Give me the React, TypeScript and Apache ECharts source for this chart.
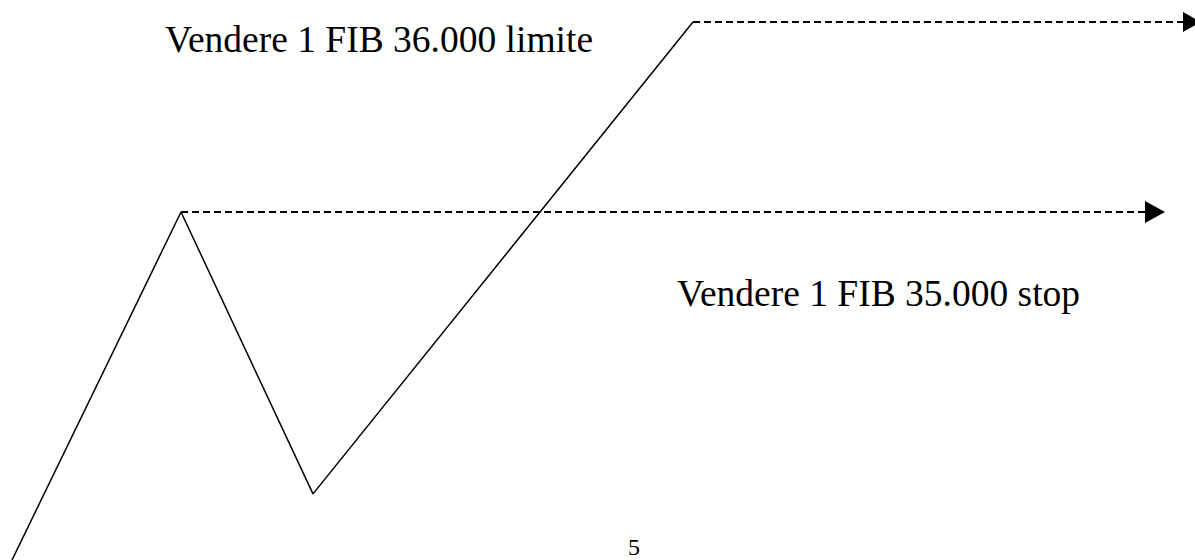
import React, { useEffect, useRef } from "react";
import * as echarts from "echarts";

// Price path (time, price) — conceptual diagram
const pathTimes = [12, 181, 313, 693];
const pathPrices = [33168, 35000, 33516, 36000];

// Order levels
const stopLevel = 35000;
const limitLevel = 36000;
const stopLineTimes = [181, 1155];
const limitLineTimes = [693, 1192];

const labelLimit = "Vendere 1 FIB 36.000 limite";
const labelStop = "Vendere 1 FIB 35.000 stop";
const pageNumber = "5";

export default function App() {
  const ref = useRef<HTMLDivElement>(null);
  useEffect(() => {
    document.body.style.margin = "0";
    const chart = echarts.init(ref.current!, null, { renderer: "svg" });
    const font = "'Liberation Serif', 'Times New Roman', serif";
    chart.setOption({
      animation: false,
      backgroundColor: "#ffffff",
      grid: { left: 0, right: 0, top: 0, bottom: 0 },
      xAxis: { type: "value", min: 0, max: 1195, show: false },
      yAxis: { type: "value", min: 33168, max: 36116, show: false },
      series: [
        {
          type: "line",
          data: pathTimes.map((t, i) => [t, pathPrices[i]]),
          symbol: "none",
          lineStyle: { color: "#000", width: 1.5 },
          z: 3,
        },
        {
          type: "line",
          data: [
            { value: [stopLineTimes[0], stopLevel], symbol: "none" },
            {
              value: [stopLineTimes[1], stopLevel],
              symbol: "triangle",
              symbolRotate: -90,
              symbolSize: [22, 20],
            },
          ],
          showSymbol: true,
          itemStyle: { color: "#000" },
          lineStyle: { color: "#000", width: 2, type: [7, 4] },
          z: 2,
        },
        {
          type: "line",
          data: [
            { value: [limitLineTimes[0], limitLevel], symbol: "none" },
            {
              value: [limitLineTimes[1], limitLevel],
              symbol: "triangle",
              symbolRotate: -90,
              symbolSize: [20, 18],
            },
          ],
          showSymbol: true,
          itemStyle: { color: "#000" },
          lineStyle: { color: "#000", width: 2, type: [7, 4] },
          z: 2,
        },
      ],
      graphic: [
        {
          type: "text",
          left: 165,
          top: 20,
          style: { text: labelLimit, font: `37.5px ${font}`, fill: "#000" },
        },
        {
          type: "text",
          left: 677,
          top: 274,
          style: { text: labelStop, font: `37.5px ${font}`, fill: "#000" },
        },
        {
          type: "text",
          left: 628,
          top: 535,
          style: { text: pageNumber, font: `24px ${font}`, fill: "#000" },
        },
      ],
    });
    return () => chart.dispose();
  }, []);
  return <div ref={ref} style={{ width: 1195, height: 560 }} />;
}
